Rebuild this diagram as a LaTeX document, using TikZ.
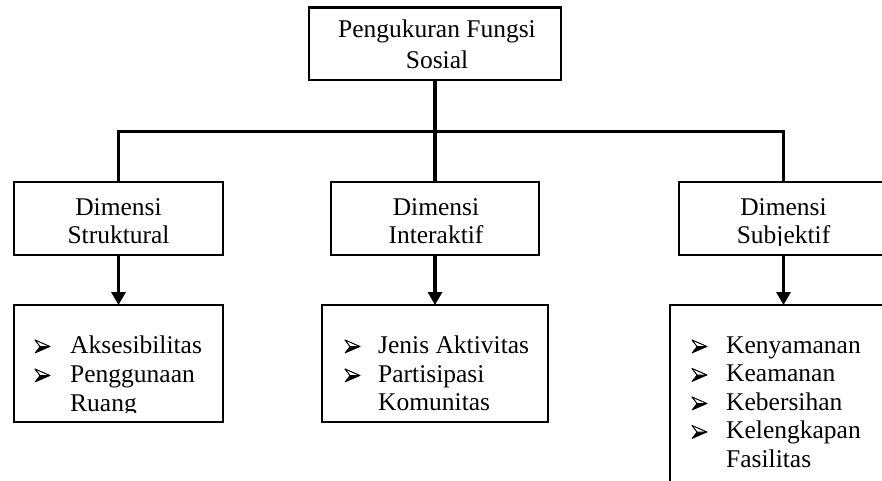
\documentclass[tikz,border=0pt]{standalone}
\usepackage{fontspec}
\setmainfont{Liberation Serif}
\usetikzlibrary{arrows.meta}
\begin{document}
\begin{tikzpicture}[x=1pt,y=-1pt,
  box/.style={draw=black, line width=2.8pt, inner sep=0pt, outer sep=0pt, anchor=north west},
  conn/.style={line width=3.8pt, draw=black},
  arr/.style={conn, -{Triangle[width=14pt,length=13pt]}},
  txt/.style={font=\fontsize{25.5}{29}\selectfont, inner sep=0pt, anchor=base},
  ltxt/.style={txt, anchor=base west},
  bul/.pic={
    \fill[black] (0,0) -- (15,-6.5) -- (5,-6.5) -- cycle;
    \draw[line width=0.7pt, fill=white, line join=round] (0,-13) -- (15,-6.5) -- (5,-6.5) -- cycle;
    \draw[line width=0.7pt, line join=round] (0,-13) -- (15,-6.5) -- (0,0) -- (5,-6.5) -- cycle;
  }]
\clip (0,0) rectangle (882,480);

% top box
\node[box, minimum width=252pt, minimum height=72.5pt] (top) at (309,7.5) {};
\node[txt] (topa) at (437,37) {Pengukuran Fungsi};
\node[txt] (topb) at (437,68) {Sosial};

% level 2
\node[box, minimum width=209pt, minimum height=73pt] (d1) at (14,182) {};
\node[txt] (d1a) at (118.5,215) {Dimensi};
\node[txt] (d1b) at (118.5,243) {Struktural};

\node[box, minimum width=208pt, minimum height=73pt] (d2) at (331,182) {};
\node[txt] (d2a) at (436,215) {Dimensi};
\node[txt] (d2b) at (436,243) {Interaktif};

\node[box, minimum width=209pt, minimum height=73pt] (d3) at (679,182) {};
\node[txt] (d3a) at (783.5,215) {Dimensi};
\begin{scope}
  \clip (0,0) rectangle (882,245.5);
  \node[txt] (d3b) at (783.5,243) {Subjektif};
\end{scope}

% level 3
\node[box, minimum width=209pt, minimum height=117pt] (e1) at (14,305) {};
\pic at (35,353) {bul};
\node[ltxt] (e1a) at (70,353) {Aksesibilitas};
\pic at (35,382) {bul};
\node[ltxt] (e1b) at (70,382) {Penggunaan};
\begin{scope}
  \clip (0,0) rectangle (882,412.5);
  \node[ltxt] (e1c) at (70,411) {Ruang};
\end{scope}

\node[box, minimum width=226pt, minimum height=117pt] (e2) at (322,305) {};
\pic at (345,353) {bul};
\node[ltxt] (e2a) at (378,353) {Jenis Aktivitas};
\pic at (345,382) {bul};
\node[ltxt] (e2b) at (378,382) {Partisipasi};
\node[ltxt] (e2c) at (378,410) {Komunitas};

\node[box, minimum width=226pt, minimum height=200pt] (e3) at (670,305) {};
\pic at (692,353) {bul};
\node[ltxt] (e3a) at (726,353) {Kenyamanan};
\pic at (692,381.5) {bul};
\node[ltxt] (e3b) at (726,381.5) {Keamanan};
\pic at (692,410) {bul};
\node[ltxt] (e3c) at (726,410) {Kebersihan};
\pic at (692,438.5) {bul};
\node[ltxt] (e3d) at (726,438.5) {Kelengkapan};
\node[ltxt] (e3e) at (726,467) {Fasilitas};

% connectors
\coordinate (bus) at (435,131.5);
\draw[conn] (top.south) -- (top.south |- bus);
\draw[conn] (d1.north) |- (bus) -| (d3.north);
\draw[conn] (bus) -- (bus |- d2.north);

\draw[arr] (d1.south) -- (e1.north -| d1.south);
\draw[arr] (d2.south) -- (e2.north -| d2.south);
\draw[arr] (d3.south) -- (e3.north -| d3.south);
\end{tikzpicture}
\end{document}
